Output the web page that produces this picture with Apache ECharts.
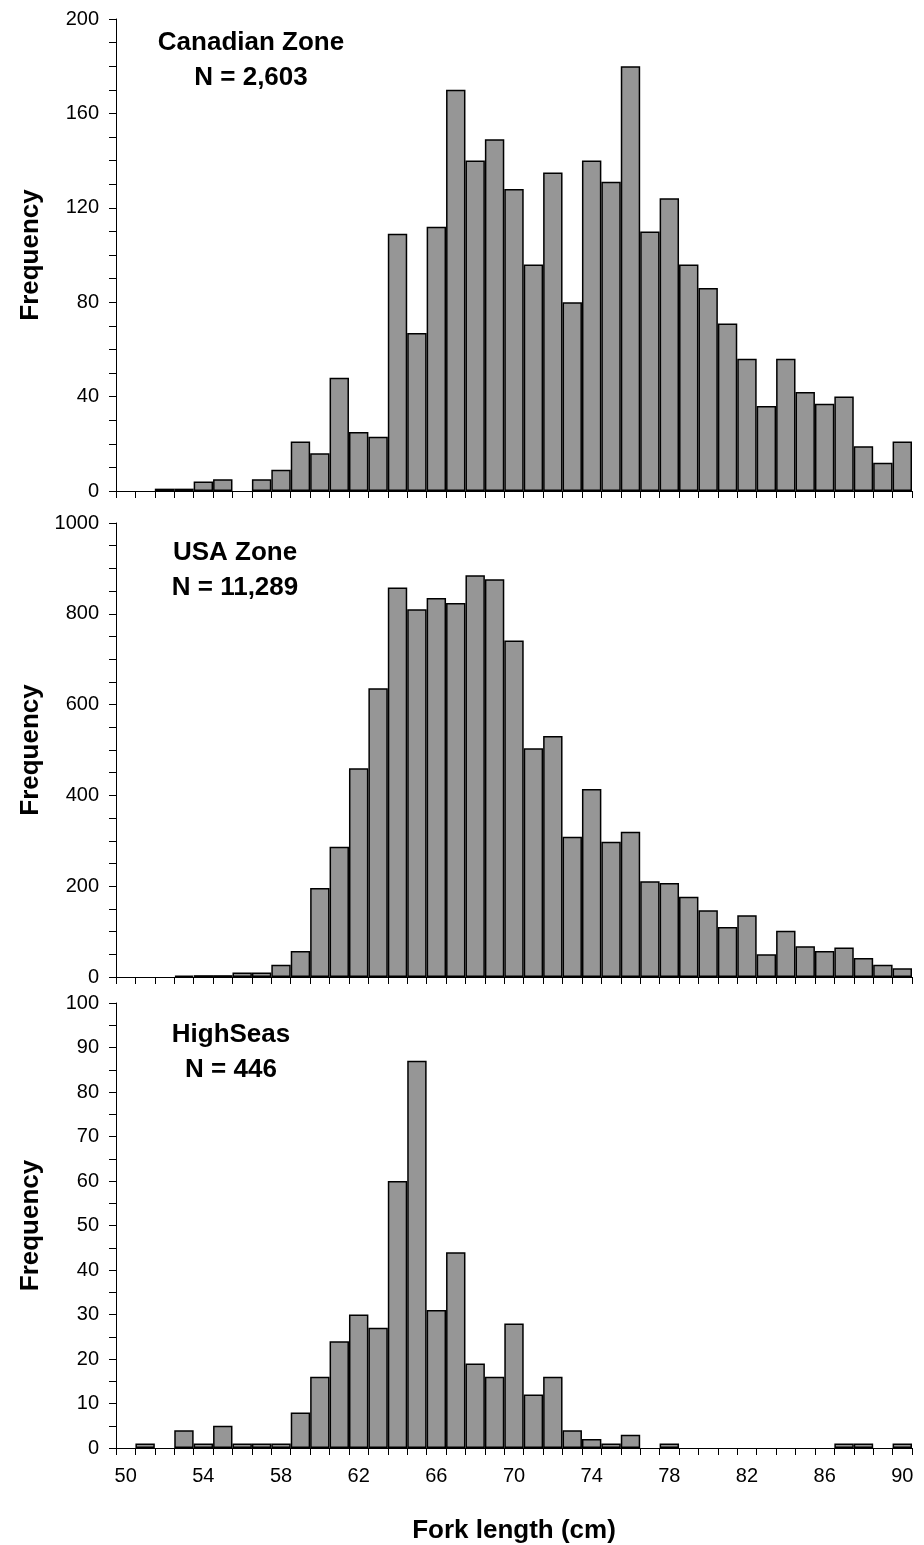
<!DOCTYPE html>
<html>
<head>
<meta charset="utf-8">
<title>Fork length frequency</title>
<script src="https://cdn.jsdelivr.net/npm/echarts@6/dist/echarts.min.js"></script>
<style>
  html, body { margin: 0; padding: 0; background: #fff; }
  #chart { width: 924px; height: 1545px; }
</style>
</head>
<body>
<div id="chart"></div>
<script>
// fork length bins (cm), lower edge of each 1 cm bin
const lengthBins = ['50', '51', '52', '53', '54', '55', '56', '57', '58', '59',
  '60', '61', '62', '63', '64', '65', '66', '67', '68', '69',
  '70', '71', '72', '73', '74', '75', '76', '77', '78', '79',
  '80', '81', '82', '83', '84', '85', '86', '87', '88', '89', '90']

// counts per bin
const canadianCounts = [0, 0, 1, 1, 4, 5, 0, 5, 9, 21,
  16, 48, 25, 23, 109, 67, 112, 170, 140, 149,
  128, 96, 135, 80, 140, 131, 180, 110, 124, 96,
  86, 71, 56, 36, 56, 42, 37, 40, 19, 12, 21]
const usaCounts = [0, 0, 0, 3, 4, 4, 10, 10, 27, 57,
  196, 287, 460, 636, 858, 810, 835, 824, 885, 876,
  741, 504, 531, 309, 414, 298, 320, 211, 207, 177,
  147, 110, 136, 50, 102, 68, 57, 65, 42, 27, 19]
const highSeasCounts = [0, 1, 0, 4, 1, 5, 1, 1, 1, 8,
  16, 24, 30, 27, 60, 87, 31, 44, 19, 16,
  28, 12, 16, 4, 2, 1, 3, 0, 1, 0,
  0, 0, 0, 0, 0, 0, 0, 1, 1, 0, 1]

// panel labels
const panelNames = ['Canadian Zone', 'USA Zone', 'HighSeas']
const panelTotals = ['N = 2,603', 'N = 11,289', 'N = 446']

// y axis: max, tick step, label step
const yMax = [200, 1000, 100]
const yTickStep = [10, 50, 5]
const yLabelStep = [40, 200, 10]

const FONT = 'Liberation Sans, Arial, sans-serif'

// panel geometry
const panels = [
  { top: 19, height: 472, textX: 251, textY: 43 },
  { top: 523, height: 454, textX: 235, textY: 553 },
  { top: 1003, height: 448, textX: 231, textY: 1035 }
]
const seriesData = [canadianCounts, usaCounts, highSeasCounts]

const chart = echarts.init(document.getElementById('chart'))

const grid = panels.map(p => ({
  left: 116,
  right: 12,
  top: p.top,
  height: p.height
}))

const xAxis = panels.map((p, i) => ({
  type: 'category',
  gridIndex: i,
  data: lengthBins,
  boundaryGap: true,
  axisLine: { lineStyle: { color: '#000', width: 1 } },
  axisTick: {
    show: true,
    interval: 0,
    length: 7,
    lineStyle: { color: '#000', width: 1 }
  },
  axisLabel: {
    show: i === 2,
    interval: 3,
    margin: 18,
    color: '#000',
    fontFamily: FONT,
    fontSize: 20
  },
  name: i === 2 ? 'Fork length (cm)' : '',
  nameLocation: 'middle',
  nameGap: 70,
  nameTextStyle: {
    color: '#000',
    fontFamily: FONT,
    fontSize: 26,
    fontWeight: 'bold'
  },
  splitLine: { show: false }
}))

const yAxis = panels.map((p, i) => ({
  type: 'value',
  gridIndex: i,
  min: 0,
  max: yMax[i],
  interval: yTickStep[i],
  axisLine: { show: true, lineStyle: { color: '#000', width: 1 } },
  axisTick: { show: true, length: 7, lineStyle: { color: '#000', width: 1 } },
  axisLabel: {
    margin: 17,
    color: '#000',
    fontFamily: FONT,
    fontSize: 20,
    formatter: v => (v % yLabelStep[i] === 0 ? String(v) : '')
  },
  splitLine: { show: false },
  name: 'Frequency',
  nameLocation: 'middle',
  nameRotate: 90,
  nameGap: 72,
  nameTextStyle: {
    color: '#000',
    fontFamily: FONT,
    fontSize: 26,
    fontWeight: 'bold'
  }
}))

const series = seriesData.map((d, i) => ({
  type: 'bar',
  xAxisIndex: i,
  yAxisIndex: i,
  // empty bins draw nothing
  data: d.map(v => (v === 0 ? null : v)),
  barCategoryGap: 0,
  itemStyle: {
    color: '#969696',
    borderColor: '#000',
    borderWidth: 1.5
  },
  silent: true,
  animation: false
}))

// zone name and sample size, centred in each panel
const graphic = panels.map((p, i) => ({
  type: 'text',
  x: p.textX,
  y: p.textY - 18,
  silent: true,
  style: {
    text: panelNames[i] + '\n' + panelTotals[i],
    align: 'center',
    verticalAlign: 'top',
    lineHeight: 35,
    font: 'bold 26px ' + FONT,
    fill: '#000'
  }
}))

const option = {
  backgroundColor: '#fff',
  animation: false,
  grid,
  xAxis,
  yAxis,
  series,
  graphic
}

chart.setOption(option)
</script>
</body>
</html>
